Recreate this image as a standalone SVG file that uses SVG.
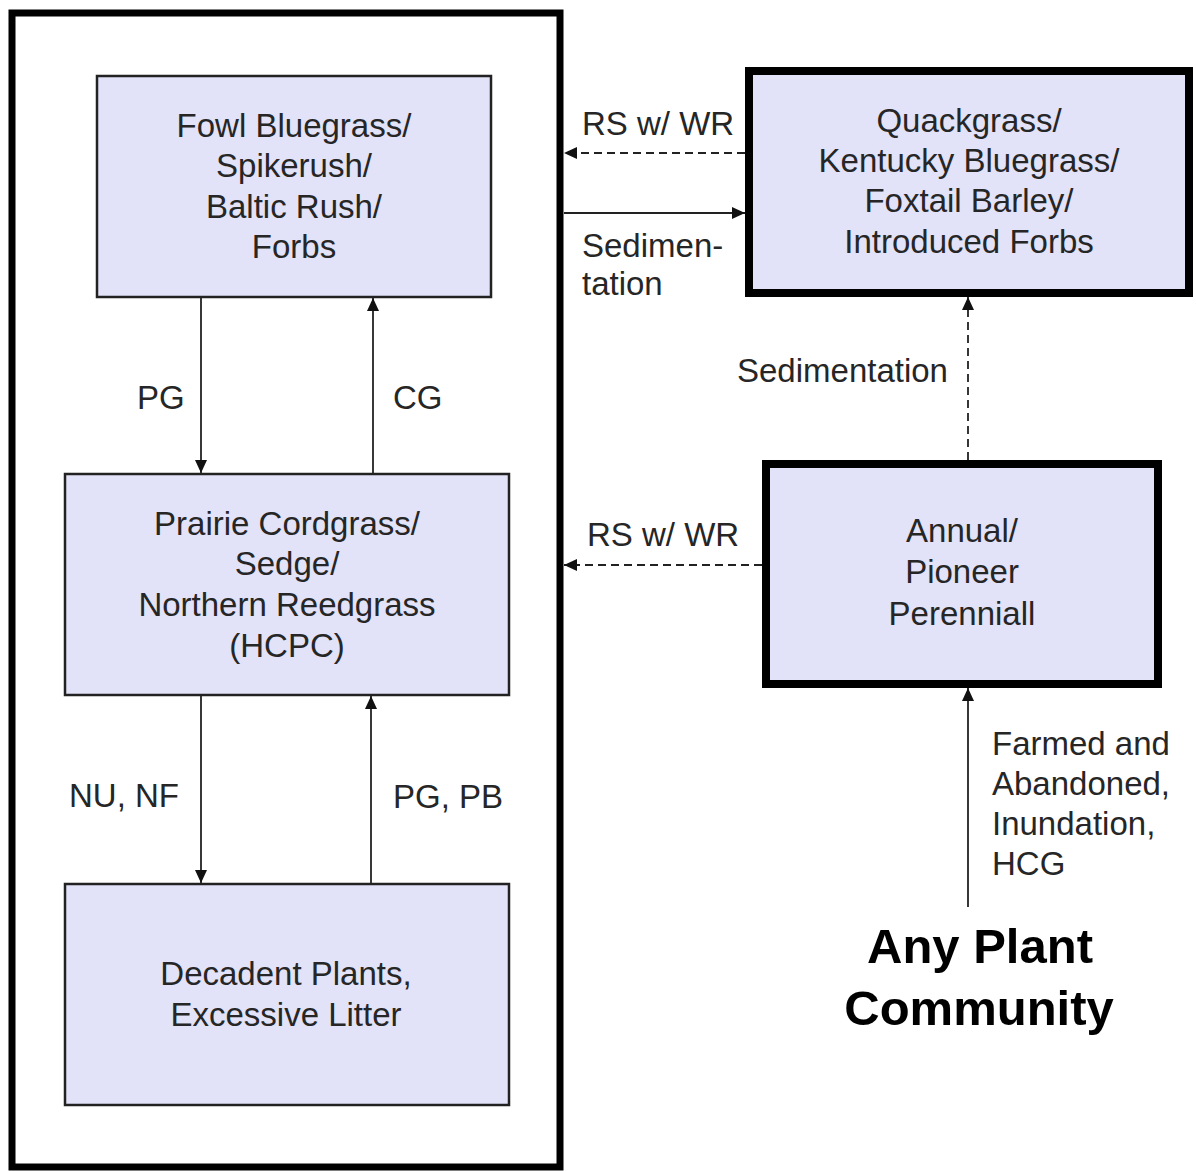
<svg xmlns="http://www.w3.org/2000/svg" width="1196" height="1171" viewBox="0 0 1196 1171">
<style>
.bg{fill:#ffffff}
.frame{fill:none;stroke:#000;stroke-width:7}
.box{fill:#e2e2f8;stroke:#222;stroke-width:2.5}
.tbox{fill:#e2e2f8;stroke:#000;stroke-width:8}
.t{font-family:"Liberation Sans",Arial,sans-serif;font-size:33px;fill:#262626;text-anchor:middle}
.l{font-family:"Liberation Sans",Arial,sans-serif;font-size:33px;fill:#262626}
.big{font-family:"Liberation Sans",Arial,sans-serif;font-size:49px;font-weight:bold;fill:#000;text-anchor:middle}
.c{stroke:#222;stroke-width:1.8;fill:none}
.d{stroke:#222;stroke-width:1.8;fill:none;stroke-dasharray:8,5}
</style>
<defs>
<marker id="ah" markerUnits="userSpaceOnUse" markerWidth="14" markerHeight="12" refX="13" refY="6" orient="auto">
<path d="M0,0 L13,6 L0,12 z" fill="#111"/>
</marker>
</defs>
<rect class="bg" x="0" y="0" width="1196" height="1171"/>
<g id="frame"><rect class="frame" x="12" y="13" width="548" height="1154"/></g>
<g id="fowl">
<rect class="box" x="97" y="76" width="394" height="221"/>
<text class="t" x="294" y="137">Fowl Bluegrass/</text>
<text class="t" x="294" y="177">Spikerush/</text>
<text class="t" x="294" y="218">Baltic Rush/</text>
<text class="t" x="294" y="258">Forbs</text>
</g>
<g id="prairie">
<rect class="box" x="65" y="474" width="444" height="221"/>
<text class="t" x="287" y="535">Prairie Cordgrass/</text>
<text class="t" x="287" y="575">Sedge/</text>
<text class="t" x="287" y="616">Northern Reedgrass</text>
<text class="t" x="287" y="657">(HCPC)</text>
</g>
<g id="decadent">
<rect class="box" x="65" y="884" width="444" height="221"/>
<text class="t" x="286" y="985">Decadent Plants,</text>
<text class="t" x="286" y="1026">Excessive Litter</text>
</g>
<g id="quackgrass">
<rect class="tbox" x="749" y="71" width="440" height="222"/>
<text class="t" x="969" y="132">Quackgrass/</text>
<text class="t" x="969" y="172">Kentucky Bluegrass/</text>
<text class="t" x="969" y="212">Foxtail Barley/</text>
<text class="t" x="969" y="253">Introduced Forbs</text>
</g>
<g id="annual">
<rect class="tbox" x="766" y="464" width="392" height="220"/>
<text class="t" x="962" y="542">Annual/</text>
<text class="t" x="962" y="583">Pioneer</text>
<text class="t" x="962" y="625">Perenniall</text>
</g>
<g id="any">
<text class="big" x="980" y="963">Any Plant</text>
<text class="big" x="979" y="1025">Community</text>
</g>
<g id="connectors">
<line class="d" x1="745" y1="153" x2="564" y2="153" marker-end="url(#ah)"/>
<line class="c" x1="564" y1="213" x2="745" y2="213" marker-end="url(#ah)"/>
<line class="d" x1="762" y1="565" x2="564" y2="565" marker-end="url(#ah)"/>
<line class="d" x1="968" y1="460" x2="968" y2="297" marker-end="url(#ah)"/>
<line class="c" x1="968" y1="907" x2="968" y2="688" marker-end="url(#ah)"/>
<line class="c" x1="201" y1="298" x2="201" y2="473" marker-end="url(#ah)"/>
<line class="c" x1="373" y1="473" x2="373" y2="298" marker-end="url(#ah)"/>
<line class="c" x1="201" y1="696" x2="201" y2="883" marker-end="url(#ah)"/>
<line class="c" x1="371" y1="883" x2="371" y2="696" marker-end="url(#ah)"/>
<text class="l" x="582" y="135">RS w/ WR</text>
<text class="l" x="582" y="257">Sedimen-</text>
<text class="l" x="582" y="295">tation</text>
<text class="l" x="587" y="546">RS w/ WR</text>
<text class="l" x="737" y="382">Sedimentation</text>
<text class="l" x="992" y="755">Farmed and</text>
<text class="l" x="992" y="795">Abandoned,</text>
<text class="l" x="992" y="835">Inundation,</text>
<text class="l" x="992" y="875">HCG</text>
<text class="l" x="137" y="409">PG</text>
<text class="l" x="393" y="409">CG</text>
<text class="l" x="69" y="807">NU, NF</text>
<text class="l" x="393" y="808">PG, PB</text>
</g>
</svg>
